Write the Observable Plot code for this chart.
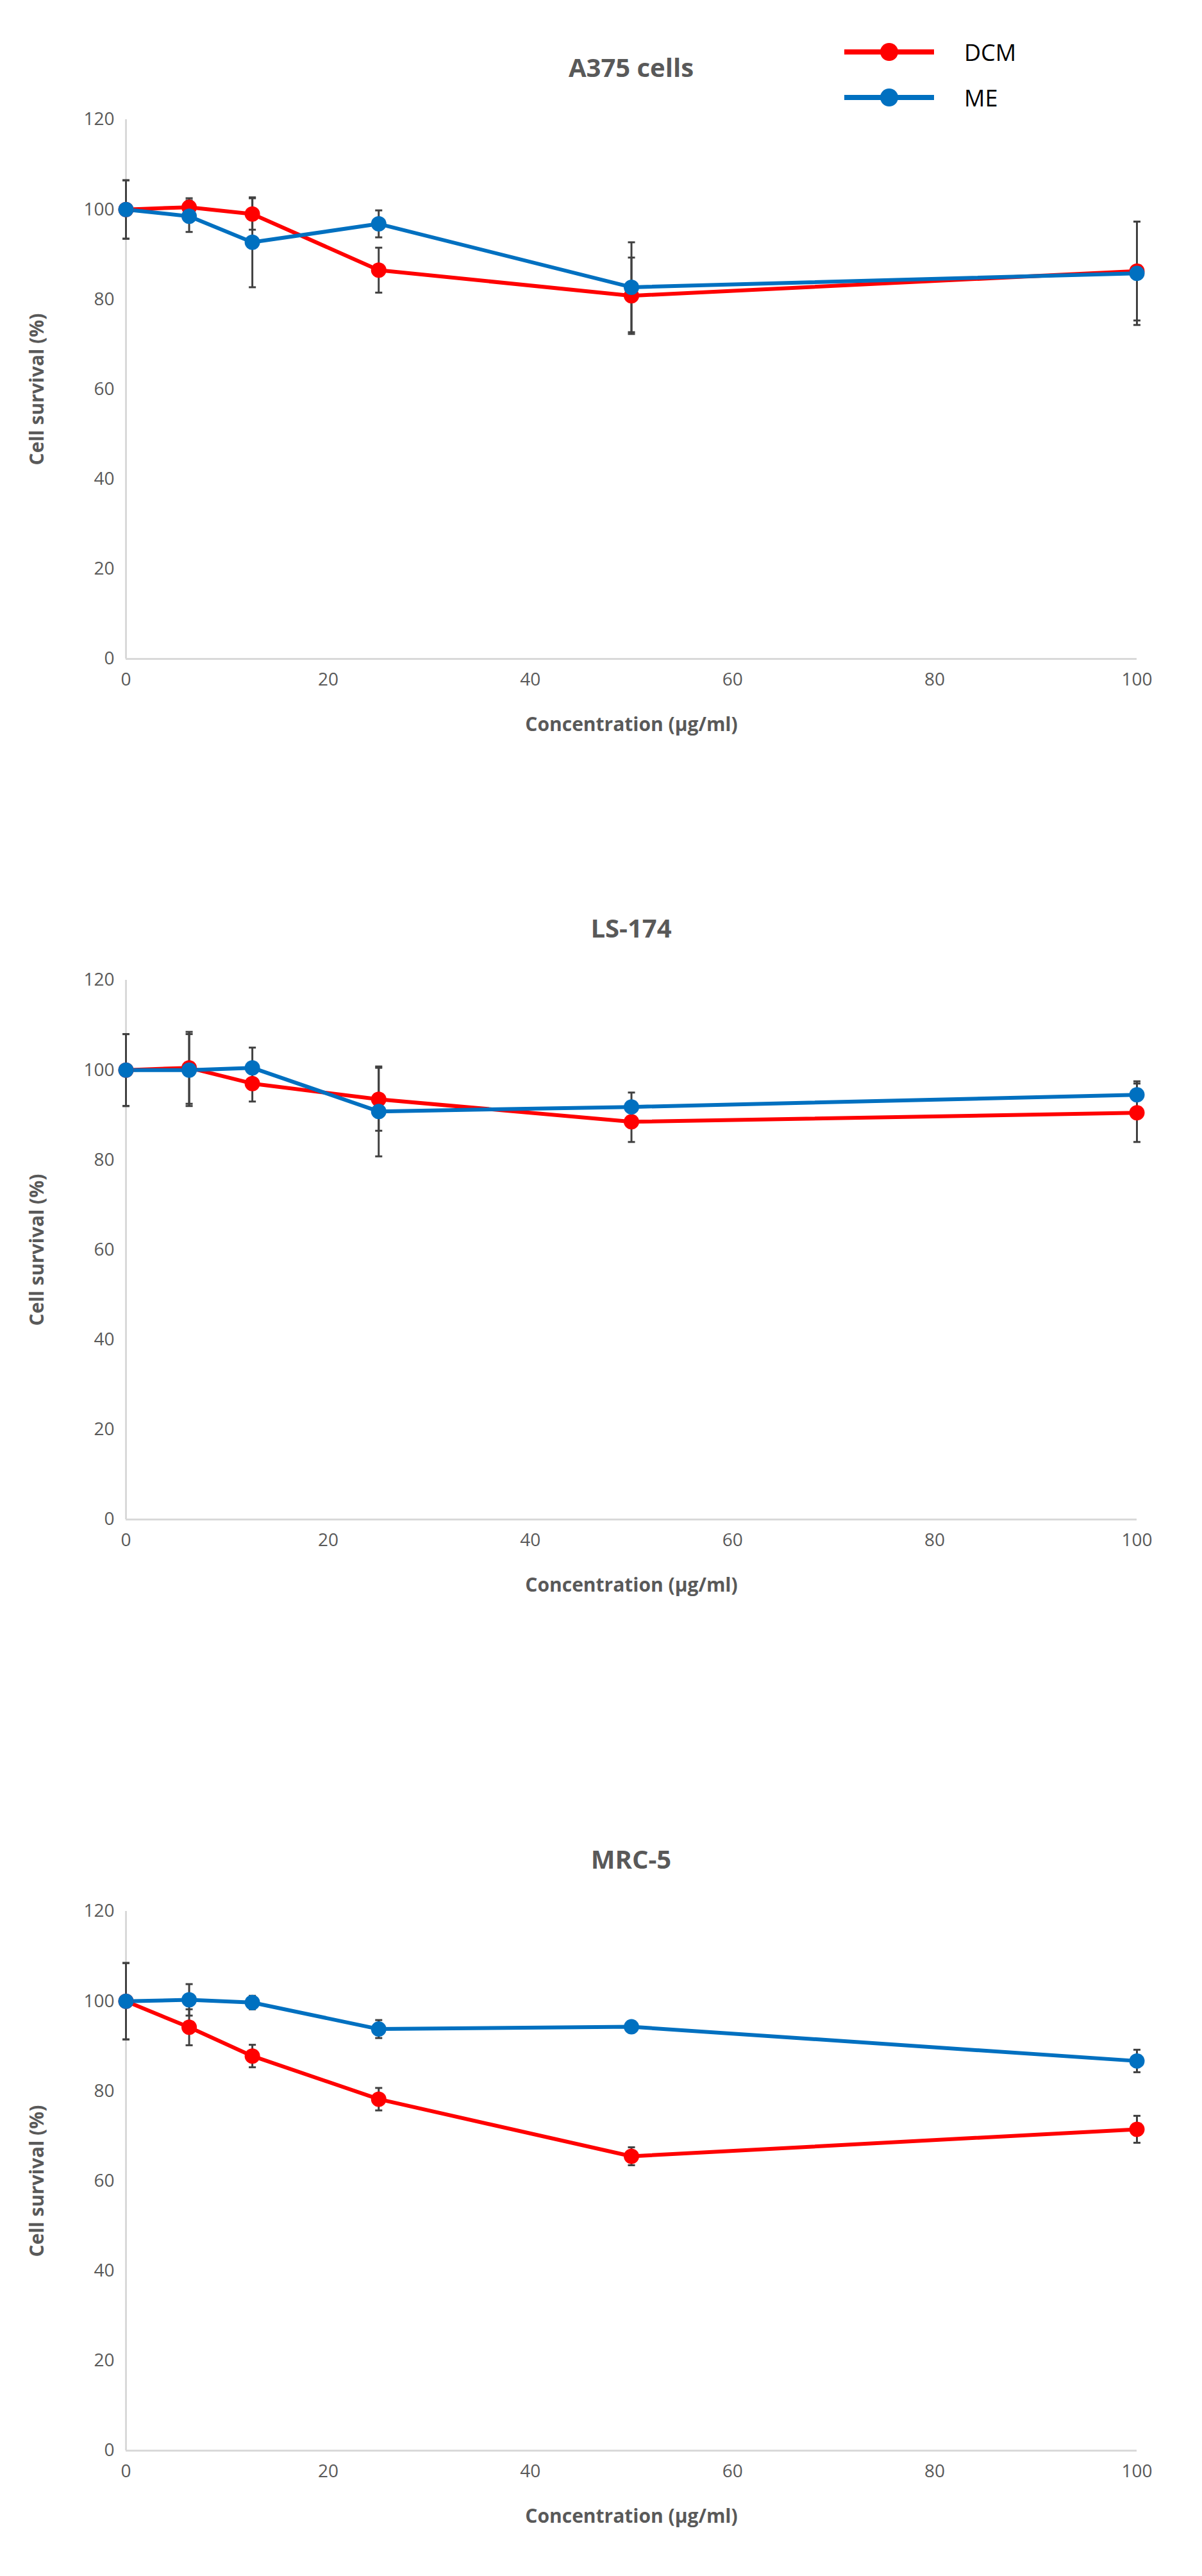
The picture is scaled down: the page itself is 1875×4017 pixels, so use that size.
<!DOCTYPE html>
<html><head><meta charset="utf-8">
<script src="https://cdn.jsdelivr.net/npm/d3@7"></script>
<script src="https://cdn.jsdelivr.net/npm/@observablehq/plot@0.6"></script>
<style>
body{margin:0;background:#fff;font-family:"Open Sans",Lato,sans-serif;}
#wrap{position:relative;width:1875px;height:4017px;}
.title{position:absolute;left:196px;width:1577px;text-align:center;font-weight:bold;font-size:40px;color:#595959;}
.panel{position:absolute;left:0;}
.leg{position:absolute;font-size:36px;color:#000;}
</style></head><body><div id="wrap"></div>
<script>
const conc = [0, 6.25, 12.5, 25, 50, 100];
const panelTitles = ["A375 cells", "LS-174", "MRC-5"];
const dcmA375 = [100, 100.5, 99, 86.5, 80.8, 86.3];
const dcmA375Err = [6.5, 2, 3.5, 5, 8.5, 11];
const meA375 = [100, 98.5, 92.7, 96.8, 82.7, 85.8];
const meA375Err = [6.5, 3.5, 10, 3, 10, 11.5];
const dcmLS = [100, 100.5, 97, 93.5, 88.5, 90.5];
const dcmLSErr = [8, 8, 4, 7, 4.5, 6.5];
const meLS = [100, 100, 100.5, 90.8, 91.8, 94.5];
const meLSErr = [8, 8, 4.5, 10, 3.2, 3];
const dcmMRC = [100, 94.2, 87.8, 78.2, 65.5, 71.5];
const dcmMRCErr = [8.5, 4, 2.5, 2.5, 2, 3];
const meMRC = [100, 100.3, 99.7, 93.8, 94.3, 86.7];
const meMRCErr = [8.5, 3.5, 1.5, 2, 1.2, 2.5];
const xTicks = [0, 20, 40, 60, 80, 100];
const yTicks = [0, 20, 40, 60, 80, 100, 120];
const seriesNames = ["DCM", "ME"];
const seriesColors = ["#ff0000", "#0070c0"];

const panels = [
  [dcmA375, dcmA375Err, meA375, meA375Err],
  [dcmLS, dcmLSErr, meLS, meLSErr],
  [dcmMRC, dcmMRCErr, meMRC, meMRCErr]
];
const tops = [0, 1342, 2794];
const wrap = document.getElementById("wrap");

panels.forEach((p, i) => {
  const rows = [];
  [0, 1].forEach(s => conc.forEach((c, j) => rows.push({x: c, y: p[s*2][j], e: p[s*2+1][j], s: seriesNames[s]})));
  const chart = Plot.plot({
    width: 1875, height: 1177,
    marginTop: 186, marginLeft: 196, marginRight: 102, marginBottom: 150,
    style: {fontFamily: "Open Sans, sans-serif", fontSize: "28px", color: "#595959", background: "#fff"},
    x: {domain: [0, 100], ticks: xTicks, tickSize: 0, tickPadding: 22, label: "Concentration (µg/ml)", labelAnchor: "center", labelOffset: 112, labelArrow: "none"},
    y: {domain: [0, 120], ticks: yTicks, tickSize: 0, tickPadding: 18, label: "Cell survival (%)", labelAnchor: "center", labelOffset: 150, labelArrow: "none"},
    color: {domain: seriesNames, range: seriesColors},
    marks: [
      Plot.ruleY([0], {stroke: "#d9d9d9", strokeWidth: 3}),
      Plot.ruleX([0], {stroke: "#d9d9d9", strokeWidth: 3}),
      Plot.link(rows, {x1: "x", x2: "x", y1: d => d.y - d.e, y2: d => d.y + d.e, stroke: "#404040", strokeWidth: 3}),
      Plot.link(rows, {x1: d => d.x - 0.35, x2: d => d.x + 0.35, y1: d => d.y - d.e, y2: d => d.y - d.e, stroke: "#404040", strokeWidth: 3}),
      Plot.link(rows, {x1: d => d.x - 0.35, x2: d => d.x + 0.35, y1: d => d.y + d.e, y2: d => d.y + d.e, stroke: "#404040", strokeWidth: 3}),
      Plot.line(rows, {x: "x", y: "y", z: "s", stroke: "s", strokeWidth: 6}),
      Plot.dot(rows, {x: "x", y: "y", fill: "s", r: 12})
    ]
  });
  chart.querySelectorAll('[aria-label="x-axis label"], [aria-label="y-axis label"]').forEach(g => {
    g.setAttribute("font-weight", "bold"); g.setAttribute("font-size", "30");
    g.querySelectorAll("text").forEach(t => { t.textContent = t.textContent.replace(/\s*[→↑←↓]\s*/g, "").trim(); });
  });
  const div = document.createElement("div");
  div.className = "panel"; div.style.top = tops[i] + "px";
  div.appendChild(chart);
  wrap.appendChild(div);
  const t = document.createElement("div");
  t.className = "title"; t.textContent = panelTitles[i];
  t.style.top = (tops[i] + 77) + "px";
  wrap.appendChild(t);
});

// legend
const legY = [77, 148];
seriesNames.forEach((n, i) => {
  const l = document.createElement("div");
  l.className = "leg";
  l.style.left = "1314px"; l.style.top = (legY[i] - 24) + "px";
  l.innerHTML = `<svg width="150" height="48" style="vertical-align:middle"><line x1="3" x2="143" y1="24" y2="24" stroke="${seriesColors[i]}" stroke-width="8"/><circle cx="73" cy="24" r="14" fill="${seriesColors[i]}"/></svg><span style="margin-left:40px;vertical-align:middle">${n}</span>`;
  wrap.appendChild(l);
});
</script></body></html>
